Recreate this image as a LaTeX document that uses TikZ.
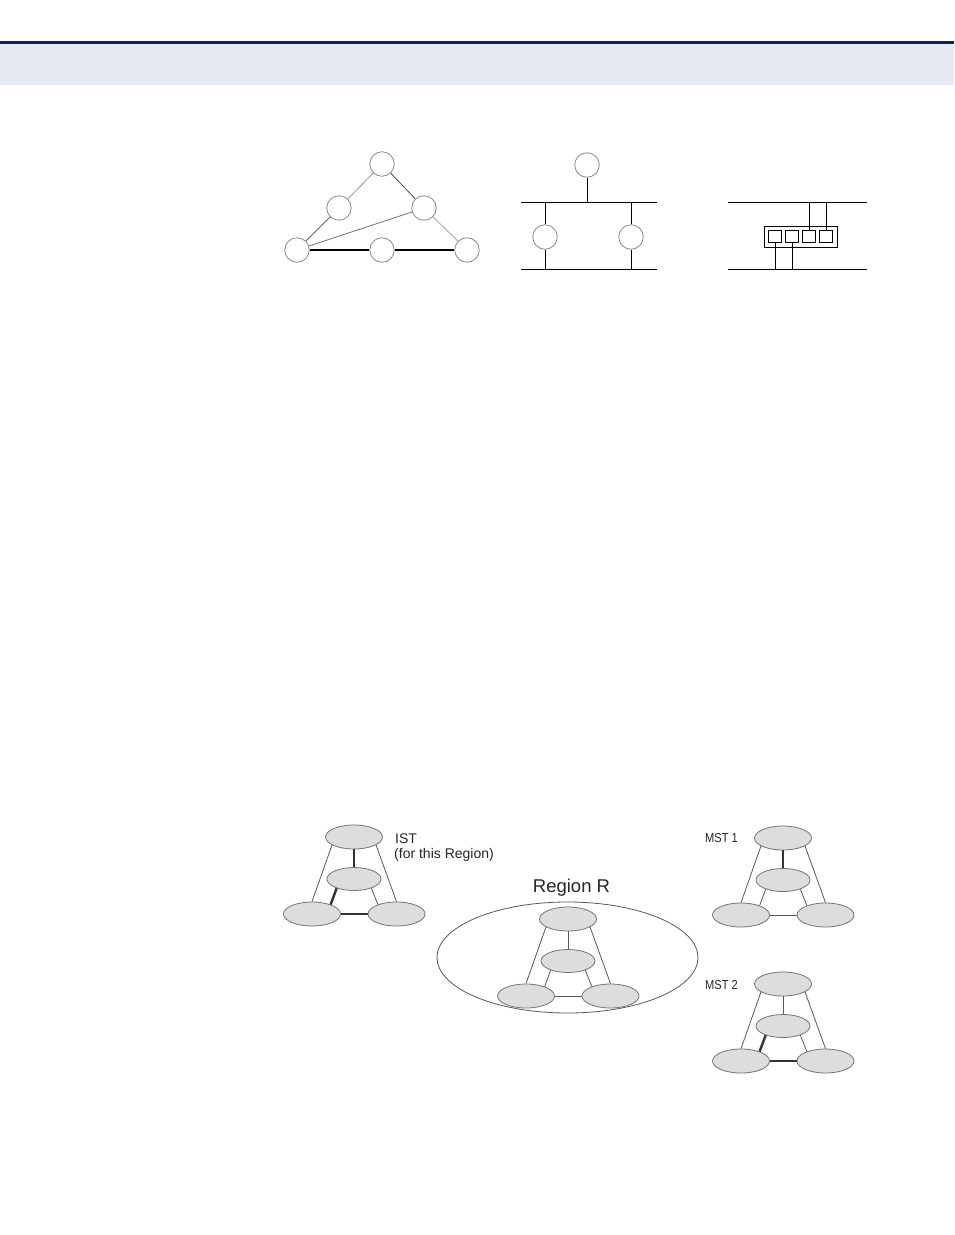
\documentclass[tikz,border=0pt]{standalone}
\usepackage{fontspec}
\setmainfont{Liberation Sans}
\newfontfamily\narrowsans[FakeStretch=0.85]{Liberation Sans}
\usetikzlibrary{shapes.geometric}
\definecolor{navy}{HTML}{0C2360}
\definecolor{band}{HTML}{E5E9F1}
\definecolor{efill}{HTML}{DDDDDD}
\newcommand\stpgroup[6]{%
  \node[ell] (#1t) at (#2,#3) {};
  \node[ellm] (#1m) at (#2,#3+42) {};
  \node[ell] (#1l) at (#2-42,#3+77) {};
  \node[ell] (#1r) at (#2+42.5,#3+77) {};
  \draw[thinln] (#1t.200) -- (#1l.north);
  \draw[thinln] (#1t.340) -- (#1r.north);
  \draw[#4] (#1t) -- (#1m);
  \draw[#5] (#1m.208) -- (#1l.27);
  \draw[thinln] (#1m.332) -- (#1r.153);
  \draw[#6] (#1l) -- (#1r);
}
\begin{document}
\begin{tikzpicture}[x=1pt,y=-1pt,
  circ/.style={circle,draw=black!45,line width=0.8pt,minimum size=24.5pt,inner sep=0pt},
  ell/.style={ellipse,draw=black!55,fill=efill,line width=0.8pt,minimum width=57pt,minimum height=24pt,inner sep=0pt},
  ellm/.style={ell,minimum width=54pt,minimum height=23pt},
  thinln/.style={draw=black!65,line width=0.8pt},
  thickln/.style={draw=black!80,line width=2.4pt},
  lbl/.style={font=\fontsize{14}{16}\selectfont,inner sep=0pt,anchor=west,text=black!85},
  mlbl/.style={font=\narrowsans\fontsize{13}{15}\selectfont,inner sep=0pt,anchor=west,text=black!85},
  bus/.style={draw=black,line width=1pt},
  port/.style={draw=black,line width=0.9pt,minimum size=12.5pt,inner sep=0pt}]
\useasboundingbox (0,0) rectangle (954,1235);
\fill[white] (0,0) rectangle (954,1235);
\fill[band] (0,44) rectangle (954,85);
\fill[navy] (0,41) rectangle (954,44);
% triangle diagram
\node[circ] (t1) at (382,164) {};
\node[circ] (t2) at (339,208) {};
\node[circ] (t3) at (424,208) {};
\node[circ] (t4) at (297,250) {};
\node[circ] (t5) at (382,250) {};
\node[circ] (t6) at (467,250) {};
\draw[black!40,line width=0.8pt] (t1) -- (t2);
\draw[black!70,line width=0.8pt] (t1) -- (t3);
\draw[black!60,line width=0.8pt] (t2) -- (t4);
\draw[black!55,line width=0.8pt] (t3) -- (t4);
\draw[black!35,line width=0.8pt] (t3) -- (t6);
\draw[black,line width=1.3pt] (t4) -- (t5);
\draw[black,line width=1.3pt] (t5) -- (t6);
% bus diagram
\node[circ] (b1) at (587,165) {};
\node[circ] (b2) at (545,237) {};
\node[circ] (b3) at (631,237) {};
\coordinate (u1) at (521,202);
\coordinate (u2) at (657,202);
\coordinate (l1) at (521,269);
\coordinate (l2) at (657,269);
\draw[bus] (u1) -- (u2);
\draw[bus] (l1) -- (l2);
\draw[bus] (b1) -- (b1 |- u1);
\draw[bus] (b2) -- (b2 |- u1);
\draw[bus] (b2) -- (b2 |- l1);
\draw[bus] (b3) -- (b3 |- u1);
\draw[bus] (b3) -- (b3 |- l1);
% switch diagram
\coordinate (v1) at (728,202);
\coordinate (v2) at (867,202);
\coordinate (w1) at (728,269);
\coordinate (w2) at (867,269);
\draw[bus] (v1) -- (v2);
\draw[bus] (w1) -- (w2);
\node[draw=black,line width=0.9pt,minimum width=73pt,minimum height=21pt,inner sep=0pt] (box) at (800.7,236.6) {};
\node[port] (p1) at (775,236.6) {};
\node[port] (p2) at (792,236.6) {};
\node[port] (p3) at (809,236.6) {};
\node[port] (p4) at (826,236.6) {};
\draw[bus] (p3) -- (p3 |- v1);
\draw[bus] (p4) -- (p4 |- v1);
\draw[bus] (p1) -- (p1 |- w1);
\draw[bus] (p2) -- (p2 |- w1);
% region ellipse
\node[ellipse,draw=black!65,line width=0.8pt,minimum width=261pt,minimum height=111pt,inner sep=0pt] (reg) at (567.5,957.5) {};
\node[font=\fontsize{18.5}{21}\selectfont,inner sep=0pt,text=black!85] (regl) at (571.5,888) {Region R};
% groups
\stpgroup{ist}{354}{837}{thickln}{thickln}{thickln}
\stpgroup{rr}{568}{919}{thinln}{thinln}{thinln}
\stpgroup{ma}{783}{838}{thickln}{thinln}{thinln}
\stpgroup{mb}{783}{984}{thinln}{thickln}{thickln}
\node[lbl] (istl) at (395,838.5) {IST};
\node[lbl] (istl2) at (394,855) {(for this Region)};
\node[mlbl] (mal) at (705,838.5) {MST 1};
\node[mlbl] (mbl) at (705,985) {MST 2};
\end{tikzpicture}
\end{document}
